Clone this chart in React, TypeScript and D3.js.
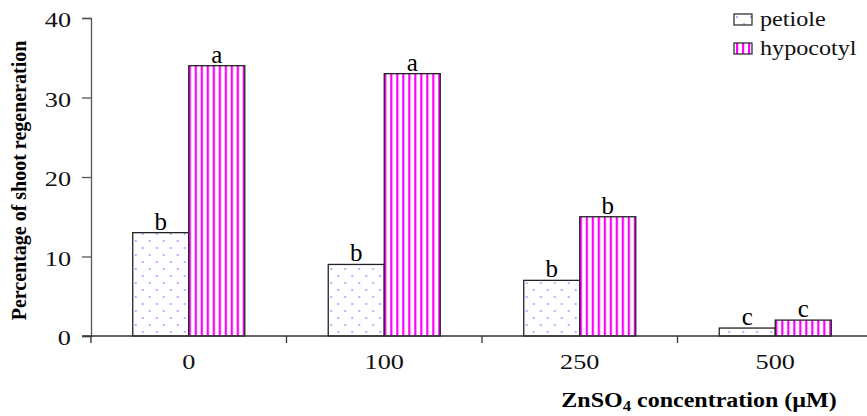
import * as d3 from 'd3';
import React, { useEffect, useRef } from 'react';

const categories = ['0', '100', '250', '500'];
const petiole = [13, 9, 7, 1];
const hypocotyl = [34, 33, 15, 2];
const petioleLetters = ['b', 'b', 'b', 'c'];
const hypocotylLetters = ['a', 'a', 'b', 'c'];
const yTicks = [0, 10, 20, 30, 40];

const W = 867;
const H = 416;
const font = '"Liberation Serif", "Times New Roman", serif';

// text that is a little wider than the font (the source picture is stretched sideways)
function stretchText(g: any, x: number, y: number, txt: string, size: number, sx: number, anchor = 'middle') {
  return g.append('text')
    .attr('transform', `translate(${x},${y}) scale(${sx},1)`)
    .attr('text-anchor', anchor).attr('font-family', font).attr('font-size', size).attr('fill', '#111')
    .text(txt);
}

export default function App() {
  const ref = useRef<SVGSVGElement>(null);

  useEffect(() => {
    const svg = d3.select(ref.current);
    svg.selectAll('*').remove();

    const y = d3.scaleLinear().domain([0, 40]).range([336, 18]);
    const x = d3.scaleBand().domain(categories).range([91, 873]).paddingInner(0.427).paddingOuter(0.2135);
    const sub = d3.scaleBand().domain(['petiole', 'hypocotyl']).range([0, x.bandwidth()]);

    const defs = svg.append('defs');
    const dots = defs.append('pattern').attr('id', 'dots').attr('patternUnits', 'userSpaceOnUse')
      .attr('width', 14).attr('height', 14);
    dots.append('rect').attr('width', 14).attr('height', 14).attr('fill', '#fff');
    dots.append('circle').attr('cx', 3).attr('cy', 3).attr('r', 0.9).attr('fill', '#8f8fff');
    dots.append('circle').attr('cx', 10).attr('cy', 10).attr('r', 0.9).attr('fill', '#8f8fff');

    const stripes = defs.append('pattern').attr('id', 'stripes').attr('patternUnits', 'userSpaceOnUse')
      .attr('width', 6).attr('height', 6);
    stripes.append('rect').attr('width', 6).attr('height', 6).attr('fill', '#fff');
    stripes.append('rect').attr('x', 2).attr('width', 2.2).attr('height', 6).attr('fill', '#ff00ff');

    // bars
    const groups = svg.append('g').selectAll('g').data(categories).enter().append('g')
      .attr('transform', d => `translate(${x(d)},0)`);

    groups.append('rect')
      .attr('x', sub('petiole')!)
      .attr('y', (d, i) => y(petiole[i]))
      .attr('width', sub.bandwidth())
      .attr('height', (d, i) => y(0) - y(petiole[i]))
      .attr('fill', 'url(#dots)').attr('stroke', '#222').attr('stroke-width', 1.3);

    groups.append('rect')
      .attr('x', sub('hypocotyl')!)
      .attr('y', (d, i) => y(hypocotyl[i]))
      .attr('width', sub.bandwidth())
      .attr('height', (d, i) => y(0) - y(hypocotyl[i]))
      .attr('fill', 'url(#stripes)').attr('stroke', '#222').attr('stroke-width', 1.3);

    groups.append('text')
      .attr('x', sub('petiole')! + sub.bandwidth() / 2)
      .attr('y', (d, i) => y(petiole[i]) - 3)
      .attr('text-anchor', 'middle').attr('font-family', font).attr('font-size', 25)
      .text((d, i) => petioleLetters[i]);

    groups.append('text')
      .attr('x', sub('hypocotyl')! + sub.bandwidth() / 2)
      .attr('y', (d, i) => y(hypocotyl[i]) - 3)
      .attr('text-anchor', 'middle').attr('font-family', font).attr('font-size', 25)
      .text((d, i) => hypocotylLetters[i]);

    // y axis
    const yAxis = svg.append('g').attr('transform', 'translate(91,0)')
      .call(d3.axisLeft(y).tickValues(yTicks).tickSize(9).tickFormat(() => ''));
    yAxis.select('.domain').attr('stroke', '#555').attr('stroke-width', 1.3);
    yAxis.selectAll('.tick line').attr('stroke', '#555').attr('stroke-width', 1.3);
    yTicks.forEach(t => stretchText(svg, 71, y(t) + 9, String(t), 21, 1.25, 'end'));

    // x axis
    const xAxisG = svg.append('g');
    xAxisG.append('line').attr('x1', 82).attr('x2', W).attr('y1', y(0)).attr('y2', y(0))
      .attr('stroke', '#333').attr('stroke-width', 1.3);
    const bounds = categories.slice(1).map(c => x(c)! - (x.step() - x.bandwidth()) / 2);
    xAxisG.selectAll('line.tk').data([91, ...bounds]).enter().append('line').attr('class', 'tk')
      .attr('x1', d => d).attr('x2', d => d).attr('y1', y(0)).attr('y2', y(0) + 7)
      .attr('stroke', '#333').attr('stroke-width', 1.3);
    categories.forEach(c => stretchText(xAxisG, x(c)! + x.bandwidth() / 2, 369, c, 21, 1.25));

    // axis titles
    svg.append('text')
      .attr('transform', `translate(26,${(28 + 333) / 2}) rotate(-90) scale(1,1.1)`)
      .attr('text-anchor', 'middle').attr('font-family', font).attr('font-weight', 'bold').attr('font-size', 20)
      .text('Percentage of shoot regeneration');

    const xt = svg.append('text').attr('transform', 'translate(699,407) scale(1.2,1)').attr('text-anchor', 'middle')
      .attr('font-family', font).attr('font-weight', 'bold').attr('font-size', 20);
    xt.append('tspan').text('ZnSO');
    xt.append('tspan').attr('font-size', 14).attr('dy', 4).text('4');
    xt.append('tspan').attr('dy', -4).text(' concentration (\u00b5M)');

    // legend
    const legend = [
      { name: 'petiole', fill: 'url(#dots)' },
      { name: 'hypocotyl', fill: 'url(#stripes)' },
    ];
    const lg = svg.append('g').selectAll('g').data(legend).enter().append('g')
      .attr('transform', (d, i) => `translate(734,${14 + i * 29})`);
    lg.append('rect').attr('width', 18).attr('height', 11).attr('fill', d => d.fill)
      .attr('stroke', '#222').attr('stroke-width', 1.2);
    lg.append('text').attr('transform', 'translate(26,12) scale(1.15,1)').attr('font-family', font).attr('font-size', 21)
      .attr('fill', '#111').text(d => d.name);
  }, []);

  return (
    <svg ref={ref} width={W} height={H} style={{ position: 'absolute', left: 0, top: 0, background: '#fff' }} />
  );
}
